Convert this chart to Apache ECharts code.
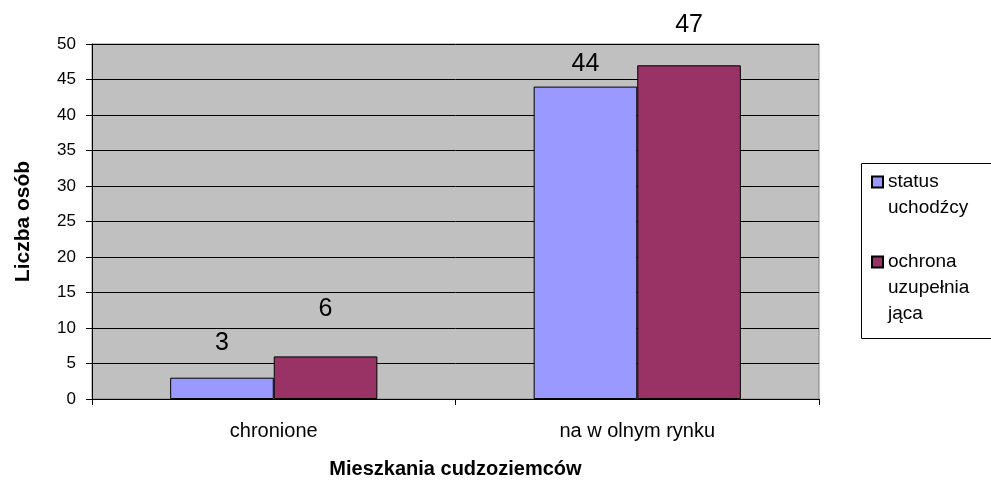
<!DOCTYPE html>
<html>
<head>
<meta charset="utf-8">
<script src="https://cdn.jsdelivr.net/npm/echarts@6/dist/echarts.min.js"></script>
<style>
  html, body { margin: 0; padding: 0; background: #fff; }
  #chart { width: 991px; height: 484px; }
</style>
</head>
<body>
<div id="chart"></div>
<script>
// dane z wykresu
var categories = ['chronione', 'na w olnym rynku'];
var statusUchodzcy = [3, 44];
var ochronaUzupelniajaca = [6, 47];
var seriesNames = ['status uchodźcy', 'ochrona uzupełniająca'];
var yTicks = { min: 0, max: 50, step: 5 };

var chart = echarts.init(document.getElementById('chart'), null, { renderer: 'canvas' });

var font = 'Liberation Sans, Arial, sans-serif';

// odstepy etykiet nad slupkami (jak w oryginale z Excela)
var blueGap = [22, 10];
var redGap = [35, 28];

function withLabels(values, gaps) {
  return values.map(function (v, i) {
    return { value: v, label: { distance: gaps[i] } };
  });
}

var legendText = { fontSize: 19, lineHeight: 26, color: '#000', fontFamily: font };

var option = {
  animation: false,
  backgroundColor: '#fff',
  textStyle: { fontFamily: font, color: '#000' },
  grid: {
    left: 92, right: 172, top: 44, bottom: 84,
    show: true,
    backgroundColor: '#C0C0C0',
    borderColor: '#808080',
    borderWidth: 1
  },
  // legenda - dwa osobne bloki, zeby ikona stala przy pierwszej linii
  legend: [{
    data: [{ name: seriesNames[0], icon: 'rect' }],
    left: 871, top: 143,
    padding: 0,
    itemWidth: 11, itemHeight: 11,
    formatter: function () { return '\nstatus\nuchodźcy'; },
    textStyle: legendText,
    selectedMode: false
  }, {
    data: [{ name: seriesNames[1], icon: 'rect' }],
    left: 871, top: 197,
    padding: 0,
    itemWidth: 11, itemHeight: 11,
    formatter: function () { return '\n\nochrona\nuzupełnia\njąca'; },
    textStyle: legendText,
    selectedMode: false
  }],
  graphic: [{
    type: 'rect',
    shape: { x: 861.5, y: 163.5, width: 140, height: 175 },
    style: { fill: 'none', stroke: '#000', lineWidth: 1 },
    z: 10
  }],
  xAxis: {
    type: 'category',
    data: categories,
    name: 'Mieszkania cudzoziemców',
    nameLocation: 'middle',
    nameGap: 60,
    nameTextStyle: { fontSize: 20, fontWeight: 'bold', color: '#000', fontFamily: font },
    axisLine: { lineStyle: { color: '#000', width: 1 } },
    axisTick: { show: true, alignWithLabel: false, length: 6, lineStyle: { color: '#000' } },
    axisLabel: { fontSize: 20, color: '#000', margin: 22 },
    splitLine: { show: false }
  },
  yAxis: {
    type: 'value',
    min: yTicks.min, max: yTicks.max, interval: yTicks.step,
    name: 'Liczba osób',
    nameLocation: 'middle',
    nameGap: 58,
    nameTextStyle: { fontSize: 21, fontWeight: 'bold', color: '#000', fontFamily: font },
    axisLine: { show: true, lineStyle: { color: '#000', width: 1 } },
    axisTick: { show: true, length: 6, lineStyle: { color: '#000' } },
    axisLabel: { fontSize: 17, color: '#000', margin: 16 },
    splitLine: { show: true, lineStyle: { color: '#000', width: 1 } }
  },
  series: [{
    name: seriesNames[0],
    type: 'bar',
    data: withLabels(statusUchodzcy, blueGap),
    barGap: '0%',
    barCategoryGap: '43%',
    itemStyle: { color: '#9999FF', borderColor: '#000', borderWidth: 1 },
    label: { show: true, position: 'top', fontSize: 25, color: '#000' }
  }, {
    name: seriesNames[1],
    type: 'bar',
    data: withLabels(ochronaUzupelniajaca, redGap),
    barGap: '0%',
    barCategoryGap: '43%',
    itemStyle: { color: '#993366', borderColor: '#000', borderWidth: 1 },
    label: { show: true, position: 'top', fontSize: 25, color: '#000' }
  }]
};

chart.setOption(option);
</script>
</body>
</html>
